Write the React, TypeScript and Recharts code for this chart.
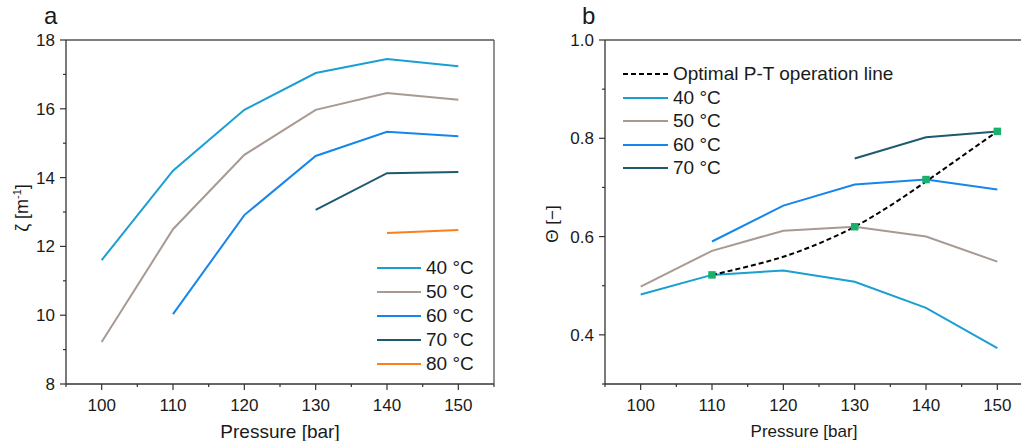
import React from 'react'
import { LineChart, Line, XAxis, YAxis, ReferenceLine } from 'recharts'

const FONT = '"Liberation Sans", Arial, sans-serif'
const AXIS = '#333333'
const TEXT = '#1a1a1a'

// pressures [bar]
const pressures = [100, 110, 120, 130, 140, 150]

// panel a: zeta [m^-1]
const zeta40 = [11.6, 14.2, 15.97, 17.04, 17.45, 17.24]
const zeta50 = [9.22, 12.5, 14.66, 15.97, 16.46, 16.26]
const zeta60 = [null, 10.03, 12.91, 14.63, 15.33, 15.2]
const zeta70 = [null, null, null, 13.06, 14.13, 14.16]
const zeta80 = [null, null, null, null, 12.39, 12.48]

// panel b: theta [-]
const theta40 = [0.482, 0.522, 0.531, 0.508, 0.455, 0.373]
const theta50 = [0.498, 0.571, 0.612, 0.62, 0.6, 0.549]
const theta60 = [null, 0.59, 0.663, 0.706, 0.716, 0.696]
const theta70 = [null, null, null, 0.759, 0.802, 0.814]
const optimalPoints = [null, 0.522, null, 0.62, 0.716, 0.814]

// optimal P-T operation line (dashed curve, read every 5 bar)
const optimalP = [110, 115, 120, 125, 130, 135, 140, 145, 150]
const optimalTheta = [0.522, 0.539, 0.559, 0.586, 0.62, 0.663, 0.712, 0.763, 0.814]

// ticks
const xTicks = [95, 100, 105, 110, 115, 120, 125, 130, 135, 140, 145, 150, 155]
const xMajor = [100, 110, 120, 130, 140, 150]
const zetaTicks = [8, 9, 10, 11, 12, 13, 14, 15, 16, 17, 18]
const zetaMajor = [8, 10, 12, 14, 16, 18]
const thetaTicks = [0.3, 0.4, 0.5, 0.6, 0.7, 0.8, 0.9, 1.0]
const thetaMajor = [0.4, 0.6, 0.8, 1.0]

const C40 = '#1a9fd2'
const C50 = '#a89a93'
const C60 = '#1786ec'
const C70 = '#1d5a6f'
const C80 = '#fb7f1c'
const GREEN = '#19b06c'

const leftData = pressures.map((p, i) => ({
  p, t40: zeta40[i], t50: zeta50[i], t60: zeta60[i], t70: zeta70[i], t80: zeta80[i],
}))
const rightData = pressures.map((p, i) => ({
  p, t40: theta40[i], t50: theta50[i], t60: theta60[i], t70: theta70[i], optPt: optimalPoints[i],
}))
const optimalData = optimalP.map((p, i) => ({ p, opt: optimalTheta[i] }))

const leftLegend = [
  { name: '40 °C', color: C40 },
  { name: '50 °C', color: C50 },
  { name: '60 °C', color: C60 },
  { name: '70 °C', color: C70 },
  { name: '80 °C', color: C80 },
]
const rightLegend = [
  { name: 'Optimal P-T operation line', color: '#000', dashed: true },
  { name: '40 °C', color: C40 },
  { name: '50 °C', color: C50 },
  { name: '60 °C', color: C60 },
  { name: '70 °C', color: C70 },
]

function XTick(props: any) {
  const { x, y, payload } = props
  const v = payload.value
  const major = xMajor.includes(v)
  return (
    <g>
      <line x1={x} x2={x} y1={y} y2={y + (major ? 6 : 3)} stroke={AXIS} strokeWidth={1.2} />
      {major && (
        <text x={x} y={y + 27} textAnchor="middle" fontSize={17} fontFamily={FONT} fill={TEXT}>{v}</text>
      )}
    </g>
  )
}

function makeYTick(major: number[], fmt: (v: number) => string) {
  return (props: any) => {
    const { x, y, payload } = props
    const v = payload.value
    const isMajor = major.some((m) => Math.abs(m - v) < 1e-9)
    return (
      <g>
        <line x1={x} x2={x - (isMajor ? 6 : 3)} y1={y} y2={y} stroke={AXIS} strokeWidth={1.2} />
        {isMajor && (
          <text x={x - 11} y={y} dy="0.35em" textAnchor="end" fontSize={17} fontFamily={FONT} fill={TEXT}>
            {fmt(v)}
          </text>
        )}
      </g>
    )
  }
}

const ZetaTick = makeYTick(zetaMajor, (v) => String(v))
const ThetaTick = makeYTick(thetaMajor, (v) => v.toFixed(1))

function SquareDot(props: any) {
  const { cx, cy, index, value } = props
  if (value == null || cy == null) return <g key={`sq-${index}`} />
  return <rect key={`sq-${index}`} x={cx - 3.75} y={cy - 3.75} width={7.5} height={7.5} fill={GREEN} />
}

function Legend({ items, left, top, step, lineW }: { items: any[]; left: number; top: number; step: number; lineW: number }) {
  return (
    <div style={{ position: 'absolute', left, top }}>
      {items.map((it, i) => (
        <div key={it.name} style={{ position: 'absolute', top: i * step - 12, left: 0, height: 24, display: 'flex', alignItems: 'center', whiteSpace: 'nowrap' }}>
          <svg width={lineW} height={4} style={{ display: 'block' }}>
            <line x1={0} x2={lineW} y1={2} y2={2} stroke={it.color} strokeWidth={2} strokeDasharray={it.dashed ? '5 3' : undefined} />
          </svg>
          <span style={{ marginLeft: 5, fontSize: 19, color: TEXT }}>{it.name}</span>
        </div>
      ))}
    </div>
  )
}

export default function App() {
  return (
    <div style={{ position: 'absolute', left: 0, top: 0, width: 1021, height: 441, overflow: 'hidden', background: '#fff', fontFamily: FONT }}>
      {/* panel a */}
      <div style={{ position: 'absolute', left: 0, top: 0 }}>
        <LineChart width={510} height={441} data={leftData} margin={{ top: 40, right: 16, bottom: 0, left: 0 }}>
          <XAxis dataKey="p" type="number" domain={[95, 155]} ticks={xTicks} interval={0} tick={XTick}
            tickSize={0} tickMargin={0} tickLine={false} axisLine={{ stroke: AXIS, strokeWidth: 1.3 }} height={57} />
          <YAxis type="number" domain={[8, 18]} ticks={zetaTicks} interval={0} tick={ZetaTick}
            tickSize={0} tickMargin={0} tickLine={false} axisLine={{ stroke: AXIS, strokeWidth: 1.3 }} width={66} />
          <ReferenceLine y={18} stroke="#555" strokeWidth={1.3} />
          <ReferenceLine x={155} stroke="#555" strokeWidth={1.3} />
          <Line dataKey="t40" stroke={C40} strokeWidth={2} dot={false} isAnimationActive={false} />
          <Line dataKey="t50" stroke={C50} strokeWidth={2} dot={false} isAnimationActive={false} />
          <Line dataKey="t60" stroke={C60} strokeWidth={2} dot={false} isAnimationActive={false} />
          <Line dataKey="t70" stroke={C70} strokeWidth={2} dot={false} isAnimationActive={false} />
          <Line dataKey="t80" stroke={C80} strokeWidth={2} dot={false} isAnimationActive={false} />
        </LineChart>
      </div>

      {/* panel b */}
      <div style={{ position: 'absolute', left: 510, top: 0 }}>
        <LineChart width={530} height={441} data={rightData} margin={{ top: 40, right: 7, bottom: 0, left: 0 }}>
          <XAxis dataKey="p" type="number" domain={[95, 155]} ticks={xTicks} interval={0} tick={XTick}
            tickSize={0} tickMargin={0} tickLine={false} axisLine={{ stroke: AXIS, strokeWidth: 1.3 }} height={57}
            allowDuplicatedCategory={false} />
          <YAxis type="number" domain={[0.3, 1.0]} ticks={thetaTicks} interval={0} tick={ThetaTick}
            tickSize={0} tickMargin={0} tickLine={false} axisLine={{ stroke: AXIS, strokeWidth: 1.3 }} width={95} />
          <ReferenceLine y={1.0} stroke="#555" strokeWidth={1.3} />
          <Line dataKey="t40" stroke={C40} strokeWidth={2} dot={false} isAnimationActive={false} />
          <Line dataKey="t50" stroke={C50} strokeWidth={2} dot={false} isAnimationActive={false} />
          <Line dataKey="t60" stroke={C60} strokeWidth={2} dot={false} isAnimationActive={false} />
          <Line dataKey="t70" stroke={C70} strokeWidth={2} dot={false} isAnimationActive={false} />
          <Line data={optimalData} dataKey="opt" type="monotone" stroke="#000" strokeWidth={2} strokeDasharray="5 3"
            dot={false} activeDot={false} isAnimationActive={false} />
          <Line dataKey="optPt" stroke="none" dot={SquareDot} activeDot={false} isAnimationActive={false} />
        </LineChart>
      </div>

      <Legend items={leftLegend} left={377} top={268} step={24} lineW={44} />
      <Legend items={rightLegend} left={623} top={74} step={23.5} lineW={45} />

      {/* panel letters */}
      <div style={{ position: 'absolute', left: 44, top: 2, fontSize: 24, color: TEXT }}>a</div>
      <div style={{ position: 'absolute', left: 582, top: 2, fontSize: 24, color: TEXT }}>b</div>

      {/* axis titles */}
      <div style={{ position: 'absolute', left: 22, top: 208, transform: 'translate(-50%, -50%) rotate(-90deg)', fontSize: 18, color: TEXT, whiteSpace: 'nowrap' }}>
        ζ [m<sup style={{ fontSize: 11 }}>-1</sup>]
      </div>
      <div style={{ position: 'absolute', left: 553, top: 224, transform: 'translate(-50%, -50%) rotate(-90deg)', fontSize: 17, color: TEXT, whiteSpace: 'nowrap' }}>
        Θ [−]
      </div>
      <div style={{ position: 'absolute', left: 280, top: 432, transform: 'translate(-50%, -50%)', fontSize: 19, color: TEXT, whiteSpace: 'nowrap' }}>
        Pressure [bar]
      </div>
      <div style={{ position: 'absolute', left: 804, top: 432, transform: 'translate(-50%, -50%)', fontSize: 17, color: TEXT, whiteSpace: 'nowrap' }}>
        Pressure [bar]
      </div>
    </div>
  )
}
